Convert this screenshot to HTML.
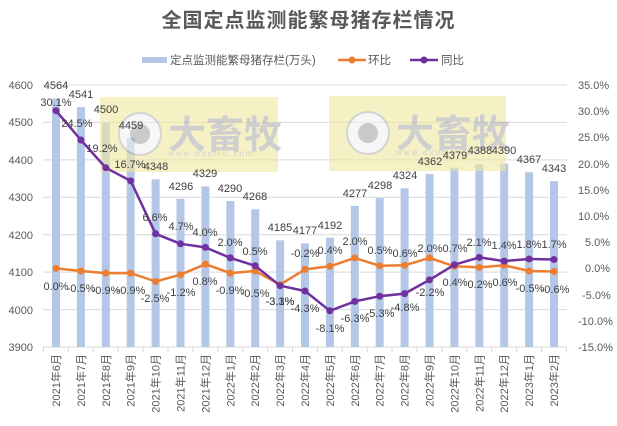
<!DOCTYPE html>
<html><head><meta charset="utf-8"><style>
html,body{margin:0;padding:0;background:#fff;}
svg{display:block;font-family:"Liberation Sans","Noto Sans CJK SC",sans-serif;}
</style></head><body>
<svg width="617" height="426" viewBox="0 0 617 426" xmlns="http://www.w3.org/2000/svg">
<rect width="617" height="426" fill="#fff"/>
<text x="308.5" y="27" text-anchor="middle" font-size="20" font-weight="bold" fill="#595959" letter-spacing="1">全国定点监测能繁母猪存栏情况</text>
<rect x="142" y="57" width="25" height="6" fill="#b4c7e7"/>
<text x="170" y="64" font-size="11.5" fill="#595959">定点监测能繁母猪存栏(万头)</text>
<line x1="338" y1="60" x2="366" y2="60" stroke="#ed7d31" stroke-width="2.5"/><circle cx="352" cy="60" r="3.5" fill="#ed7d31"/>
<text x="368" y="64" font-size="11.5" fill="#595959">环比</text>
<line x1="410" y1="60" x2="438" y2="60" stroke="#7030a0" stroke-width="2.5"/><circle cx="424" cy="60" r="3.5" fill="#7030a0"/>
<text x="441" y="64" font-size="11.5" fill="#595959">同比</text>
<g stroke="#d9d9d9" stroke-width="1">
<line x1="43" y1="85" x2="567" y2="85"/><line x1="43" y1="122.4" x2="567" y2="122.4"/><line x1="43" y1="159.9" x2="567" y2="159.9"/><line x1="43" y1="197.3" x2="567" y2="197.3"/><line x1="43" y1="234.7" x2="567" y2="234.7"/><line x1="43" y1="272.1" x2="567" y2="272.1"/><line x1="43" y1="309.6" x2="567" y2="309.6"/><line x1="43" y1="347" x2="567" y2="347"/>
</g>
<g stroke="#d9d9d9"><line x1="43.5" y1="347" x2="43.5" y2="352"/><line x1="68.4" y1="347" x2="68.4" y2="352"/><line x1="93.3" y1="347" x2="93.3" y2="352"/><line x1="118.2" y1="347" x2="118.2" y2="352"/><line x1="143.1" y1="347" x2="143.1" y2="352"/><line x1="168" y1="347" x2="168" y2="352"/><line x1="192.9" y1="347" x2="192.9" y2="352"/><line x1="217.8" y1="347" x2="217.8" y2="352"/><line x1="242.7" y1="347" x2="242.7" y2="352"/><line x1="267.6" y1="347" x2="267.6" y2="352"/><line x1="292.5" y1="347" x2="292.5" y2="352"/><line x1="317.4" y1="347" x2="317.4" y2="352"/><line x1="342.3" y1="347" x2="342.3" y2="352"/><line x1="367.2" y1="347" x2="367.2" y2="352"/><line x1="392.1" y1="347" x2="392.1" y2="352"/><line x1="417" y1="347" x2="417" y2="352"/><line x1="441.9" y1="347" x2="441.9" y2="352"/><line x1="466.8" y1="347" x2="466.8" y2="352"/><line x1="491.7" y1="347" x2="491.7" y2="352"/><line x1="516.6" y1="347" x2="516.6" y2="352"/><line x1="541.5" y1="347" x2="541.5" y2="352"/><line x1="566.4" y1="347" x2="566.4" y2="352"/></g>
<g font-size="11" fill="#595959" text-anchor="end">
<text x="33" y="89">4600</text><text x="33" y="126">4500</text><text x="33" y="164">4400</text><text x="33" y="201">4300</text><text x="33" y="239">4200</text><text x="33" y="276">4100</text><text x="33" y="314">4000</text><text x="33" y="351">3900</text>
</g>
<g font-size="11" fill="#595959" text-anchor="start">
<text x="578" y="89">35.0%</text><text x="578" y="115">30.0%</text><text x="578" y="141">25.0%</text><text x="578" y="168">20.0%</text><text x="578" y="194">15.0%</text><text x="578" y="220">10.0%</text><text x="585" y="246">5.0%</text><text x="585" y="272">0.0%</text><text x="582" y="299">-5.0%</text><text x="578" y="325">-10.0%</text><text x="578" y="351">-15.0%</text>
</g>
<g fill="#b4c7e7">
<rect x="52" y="98.5" width="8" height="248.5"/><rect x="76.9" y="107.1" width="8" height="239.9"/><rect x="101.8" y="122.4" width="8" height="224.6"/><rect x="126.7" y="137.8" width="8" height="209.2"/><rect x="151.6" y="179.3" width="8" height="167.7"/><rect x="176.5" y="198.8" width="8" height="148.2"/><rect x="201.4" y="186.4" width="8" height="160.6"/><rect x="226.3" y="201" width="8" height="146"/><rect x="251.2" y="209.3" width="8" height="137.7"/><rect x="276.1" y="240.3" width="8" height="106.7"/><rect x="301" y="243.3" width="8" height="103.7"/><rect x="325.9" y="237.7" width="8" height="109.3"/><rect x="350.8" y="205.9" width="8" height="141.1"/><rect x="375.7" y="198" width="8" height="149"/><rect x="400.6" y="188.3" width="8" height="158.7"/><rect x="425.5" y="174.1" width="8" height="172.9"/><rect x="450.4" y="167.7" width="8" height="179.3"/><rect x="475.3" y="164.3" width="8" height="182.7"/><rect x="500.2" y="163.6" width="8" height="183.4"/><rect x="525.1" y="172.2" width="8" height="174.8"/><rect x="550" y="181.2" width="8" height="165.8"/>
</g>
<g opacity="0.6">
<rect x="100" y="97" width="178" height="75" fill="#f1e7a0"/>
<circle cx="140" cy="134" r="21" fill="#f2f2f2" stroke="#b8b8b8" stroke-width="2"/><circle cx="140" cy="134" r="10" fill="#a8a8a8"/>
<text x="168" y="148" font-size="38" font-weight="bold" fill="#b0b0b0" font-family="Noto Sans CJK SC,sans-serif">大畜牧</text>
<text x="168" y="156" font-size="8" fill="#b0b0b0" letter-spacing="2">www.dxumu.com</text>
<rect x="329" y="96" width="177" height="75" fill="#f1e7a0"/>
<circle cx="368" cy="133" r="21" fill="#f2f2f2" stroke="#b8b8b8" stroke-width="2"/><circle cx="368" cy="133" r="10" fill="#a8a8a8"/>
<text x="396" y="147" font-size="38" font-weight="bold" fill="#b0b0b0" font-family="Noto Sans CJK SC,sans-serif">大畜牧</text>
<text x="396" y="155" font-size="8" fill="#b0b0b0" letter-spacing="2">www.dxumu.com</text>
</g>
<polyline fill="none" stroke="#ed7d31" stroke-width="2.5" stroke-linejoin="round" points="56,268.4 80.9,271 105.8,273.1 130.7,273.1 155.6,281.5 180.5,274.7 205.4,264.2 230.3,273.1 255.2,271 280.1,284.6 305,269.4 329.9,266.3 354.8,257.9 379.7,265.8 404.6,265.3 429.5,257.9 454.4,266.3 479.3,267.4 504.2,265.3 529.1,271 554,271.5"/>
<g fill="#ed7d31"><circle cx="56" cy="268.4" r="3.5"/><circle cx="80.9" cy="271" r="3.5"/><circle cx="105.8" cy="273.1" r="3.5"/><circle cx="130.7" cy="273.1" r="3.5"/><circle cx="155.6" cy="281.5" r="3.5"/><circle cx="180.5" cy="274.7" r="3.5"/><circle cx="205.4" cy="264.2" r="3.5"/><circle cx="230.3" cy="273.1" r="3.5"/><circle cx="255.2" cy="271" r="3.5"/><circle cx="280.1" cy="284.6" r="3.5"/><circle cx="305" cy="269.4" r="3.5"/><circle cx="329.9" cy="266.3" r="3.5"/><circle cx="354.8" cy="257.9" r="3.5"/><circle cx="379.7" cy="265.8" r="3.5"/><circle cx="404.6" cy="265.3" r="3.5"/><circle cx="429.5" cy="257.9" r="3.5"/><circle cx="454.4" cy="266.3" r="3.5"/><circle cx="479.3" cy="267.4" r="3.5"/><circle cx="504.2" cy="265.3" r="3.5"/><circle cx="529.1" cy="271" r="3.5"/><circle cx="554" cy="271.5" r="3.5"/></g>
<polyline fill="none" stroke="#7030a0" stroke-width="2.5" stroke-linejoin="round" points="56,110.7 80.9,140 105.8,167.8 130.7,180.9 155.6,233.8 180.5,243.8 205.4,247.4 230.3,257.9 255.2,265.8 280.1,285.7 305,291 329.9,310.8 354.8,301.4 379.7,296.2 404.6,293.6 429.5,279.9 454.4,264.7 479.3,257.4 504.2,261.1 529.1,259 554,259.5"/>
<g fill="#7030a0"><circle cx="56" cy="110.7" r="3.5"/><circle cx="80.9" cy="140" r="3.5"/><circle cx="105.8" cy="167.8" r="3.5"/><circle cx="130.7" cy="180.9" r="3.5"/><circle cx="155.6" cy="233.8" r="3.5"/><circle cx="180.5" cy="243.8" r="3.5"/><circle cx="205.4" cy="247.4" r="3.5"/><circle cx="230.3" cy="257.9" r="3.5"/><circle cx="255.2" cy="265.8" r="3.5"/><circle cx="280.1" cy="285.7" r="3.5"/><circle cx="305" cy="291" r="3.5"/><circle cx="329.9" cy="310.8" r="3.5"/><circle cx="354.8" cy="301.4" r="3.5"/><circle cx="379.7" cy="296.2" r="3.5"/><circle cx="404.6" cy="293.6" r="3.5"/><circle cx="429.5" cy="279.9" r="3.5"/><circle cx="454.4" cy="264.7" r="3.5"/><circle cx="479.3" cy="257.4" r="3.5"/><circle cx="504.2" cy="261.1" r="3.5"/><circle cx="529.1" cy="259" r="3.5"/><circle cx="554" cy="259.5" r="3.5"/></g>
<g font-size="11" fill="#404040" text-anchor="middle">
<text x="56" y="89">4564</text><text x="81" y="98">4541</text><text x="106" y="113">4500</text><text x="131" y="129">4459</text><text x="156" y="170">4348</text><text x="181" y="190">4296</text><text x="205" y="177">4329</text><text x="230" y="192">4290</text><text x="255" y="200">4268</text><text x="280" y="231">4185</text><text x="305" y="234">4177</text><text x="330" y="229">4192</text><text x="355" y="197">4277</text><text x="380" y="189">4298</text><text x="405" y="179">4324</text><text x="430" y="165">4362</text><text x="455" y="159">4379</text><text x="480" y="154">4388</text><text x="504" y="154">4390</text><text x="529" y="163">4367</text><text x="554" y="172">4343</text>
</g>
<g font-size="11" fill="#404040" text-anchor="middle">
<text x="56" y="106">30.1%</text><text x="77" y="127">24.5%</text><text x="102" y="152">19.2%</text><text x="130" y="168">16.7%</text><text x="155" y="221">6.6%</text><text x="181" y="230">4.7%</text><text x="205" y="236">4.0%</text><text x="230" y="246">2.0%</text><text x="255" y="255">0.5%</text><text x="280" y="305">-3.3%</text><text x="305" y="312">-4.3%</text><text x="330" y="332">-8.1%</text><text x="355" y="322">-6.3%</text><text x="380" y="317">-5.3%</text><text x="405" y="311">-4.8%</text><text x="430" y="296">-2.2%</text><text x="455" y="252">0.7%</text><text x="479" y="246">2.1%</text><text x="504" y="249">1.4%</text><text x="529" y="248">1.8%</text><text x="554" y="248">1.7%</text>
</g>
<g font-size="11" fill="#404040" text-anchor="middle">
<text x="56" y="290">0.0%</text><text x="81" y="292">-0.5%</text><text x="106" y="294">-0.9%</text><text x="131" y="294">-0.9%</text><text x="155" y="302">-2.5%</text><text x="181" y="296">-1.2%</text><text x="205" y="285">0.8%</text><text x="230" y="294">-0.9%</text><text x="255" y="297">-0.5%</text><text x="280" y="305">-3.1%</text><text x="305" y="257">-0.2%</text><text x="330" y="254">0.4%</text><text x="355" y="245">2.0%</text><text x="380" y="254">0.5%</text><text x="405" y="257">0.6%</text><text x="430" y="252">2.0%</text><text x="455" y="286">0.4%</text><text x="480" y="288">0.2%</text><text x="505" y="286">0.6%</text><text x="530" y="292">-0.5%</text><text x="555" y="293">-0.6%</text>
</g>
<g font-size="11" fill="#595959" text-anchor="end">
<text transform="translate(60,354) rotate(-90)">2021年6月</text>
<text transform="translate(84.9,354) rotate(-90)">2021年7月</text>
<text transform="translate(109.8,354) rotate(-90)">2021年8月</text>
<text transform="translate(134.7,354) rotate(-90)">2021年9月</text>
<text transform="translate(159.6,354) rotate(-90)">2021年10月</text>
<text transform="translate(184.5,354) rotate(-90)">2021年11月</text>
<text transform="translate(209.4,354) rotate(-90)">2021年12月</text>
<text transform="translate(234.3,354) rotate(-90)">2022年1月</text>
<text transform="translate(259.2,354) rotate(-90)">2022年2月</text>
<text transform="translate(284.1,354) rotate(-90)">2022年3月</text>
<text transform="translate(309,354) rotate(-90)">2022年4月</text>
<text transform="translate(333.9,354) rotate(-90)">2022年5月</text>
<text transform="translate(358.8,354) rotate(-90)">2022年6月</text>
<text transform="translate(383.7,354) rotate(-90)">2022年7月</text>
<text transform="translate(408.6,354) rotate(-90)">2022年8月</text>
<text transform="translate(433.5,354) rotate(-90)">2022年9月</text>
<text transform="translate(458.4,354) rotate(-90)">2022年10月</text>
<text transform="translate(483.3,354) rotate(-90)">2022年11月</text>
<text transform="translate(508.2,354) rotate(-90)">2022年12月</text>
<text transform="translate(533.1,354) rotate(-90)">2023年1月</text>
<text transform="translate(558,354) rotate(-90)">2023年2月</text>
</g>
</svg>
</body></html>
